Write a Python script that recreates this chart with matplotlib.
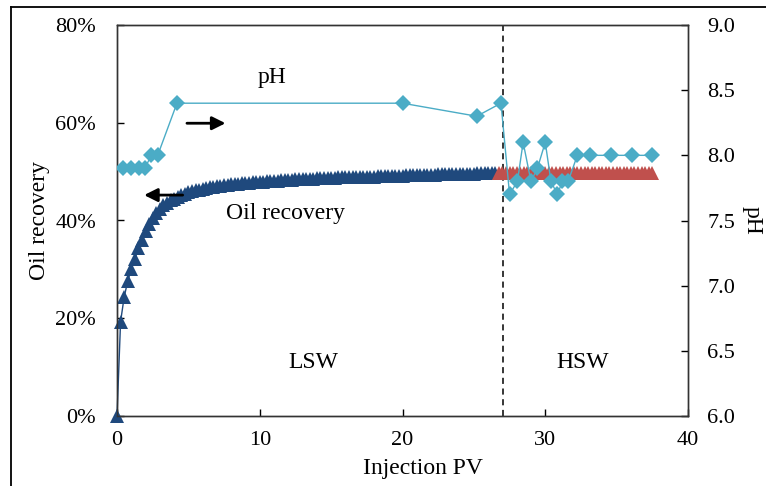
import numpy as np
import matplotlib.pyplot as plt
from matplotlib.lines import Line2D

# --------------------------------------
# DATA
# --------------------------------------

# oil recovery (%) every 0.25 PV, low salinity water (from 0 to 26.5 PV)
rec_lsw = [
    0.0, 19.3, 24.3, 27.6, 30.0, 32.1, 34.3, 36.1, 37.8, 39.2,
    40.5, 41.6, 42.4, 43.1, 43.6, 44.1, 44.5, 44.9, 45.2, 45.5,
    45.8, 46.0, 46.2, 46.3, 46.5, 46.7, 46.8, 46.9, 47.0, 47.1,
    47.2, 47.3, 47.4, 47.4, 47.5, 47.6, 47.7, 47.7, 47.8, 47.8,
    47.9, 47.9, 48.0, 48.0, 48.1, 48.1, 48.2, 48.2, 48.3, 48.3,
    48.4, 48.4, 48.4, 48.5, 48.5, 48.5, 48.6, 48.6, 48.6, 48.7,
    48.7, 48.7, 48.8, 48.8, 48.8, 48.9, 48.9, 48.9, 48.9, 49.0,
    49.0, 49.0, 49.0, 49.1, 49.1, 49.1, 49.1, 49.2, 49.2, 49.2,
    49.2, 49.3, 49.3, 49.3, 49.3, 49.4, 49.4, 49.4, 49.4, 49.4,
    49.5, 49.5, 49.5, 49.5, 49.5, 49.6, 49.6, 49.6, 49.6, 49.6,
    49.6, 49.7, 49.7, 49.7, 49.7, 49.7, 49.7,
]
pv_lsw = np.arange(len(rec_lsw)) * 0.25

# oil recovery (%) every 0.25 PV, high salinity water (from 26.75 PV)
rec_hsw = [
    49.7, 49.7, 49.7, 49.7, 49.7, 49.7, 49.7, 49.7, 49.7, 49.7,
    49.7, 49.7, 49.7, 49.7, 49.7, 49.7, 49.7, 49.7, 49.7, 49.7,
    49.7, 49.7, 49.7, 49.7, 49.7, 49.7, 49.7, 49.7, 49.7, 49.7,
    49.7, 49.7, 49.7, 49.7, 49.7, 49.7, 49.7, 49.7, 49.7, 49.7,
    49.7, 49.7, 49.7, 49.7,
]
pv_hsw = 26.75 + np.arange(len(rec_hsw)) * 0.25

# effluent pH
pv_ph = [0.45, 1.0, 1.55, 1.95, 2.4, 2.85, 4.2, 20.0, 25.2, 26.9,
         27.5, 28.05, 28.45, 29.0, 29.45, 30.0, 30.4, 30.85, 31.2, 31.6,
         32.25, 33.1, 34.6, 36.1, 37.45]
ph = [7.9, 7.9, 7.9, 7.9, 8.0, 8.0, 8.4, 8.4, 8.3, 8.4,
      7.7, 7.8, 8.1, 7.8, 7.9, 8.1, 7.8, 7.7, 7.8, 7.8,
      8.0, 8.0, 8.0, 8.0, 8.0]

switch_pv = 27.05

x_ticks = [0, 10, 20, 30, 40]
y_ticks = [0, 20, 40, 60, 80]
ph_ticks = [6.0, 6.5, 7.0, 7.5, 8.0, 8.5, 9.0]

# --------------------------------------
# STYLE
# --------------------------------------

plt.rcParams['font.family'] = ['Liberation Serif', 'DejaVu Serif']
plt.rcParams['font.size'] = 17

blue = '#1F497D'
red = '#C0504D'
aqua = '#4BACC6'

fig = plt.figure(figsize=(7.66, 4.86), dpi=100)
ax = fig.add_axes([117/766, 70/486, 571/766, 391/486])
ax2 = ax.twinx()

# --------------------------------------
# OIL RECOVERY
# --------------------------------------

ax.plot(pv_lsw, rec_lsw, color=blue, lw=1, marker='^', ms=9.5,
        markeredgewidth=0, zorder=3, clip_on=False)
ax.plot(pv_hsw, rec_hsw, color=red, lw=1, marker='^', ms=9.5,
        markeredgewidth=0, zorder=3, clip_on=False)
ax.axvline(switch_pv, color='k', ls=(0, (4, 3)), lw=1.1, zorder=2)

ax.set_xlim(0, 40)
ax.set_ylim(0, 80)
ax.set_xticks(x_ticks)
ax.set_yticks(y_ticks)
ax.set_yticklabels([f'{v}%' for v in y_ticks])
ax.set_xlabel('Injection PV')
ax.set_ylabel('Oil recovery')
ax.xaxis.set_label_coords(0.535, -0.107)
ax.yaxis.set_label_coords(-0.117, 0.5)

# --------------------------------------
# PH
# --------------------------------------

ax2.plot(pv_ph, ph, color=aqua, lw=1, marker='D', ms=8,
         markeredgewidth=0, zorder=4)
ax2.set_ylim(6, 9)
ax2.set_yticks(ph_ticks)
ax2.set_yticklabels([f'{v:.1f}' for v in ph_ticks])
ax2.set_ylabel('pH', rotation=270, va='center')
ax2.yaxis.set_label_coords(1.112, 0.5)

ax.tick_params(axis='x', direction='in', length=5, width=1, pad=11, labelsize=16)
ax.tick_params(axis='y', direction='in', length=5, width=1, pad=15, labelsize=16)
ax2.tick_params(axis='y', direction='in', length=5, width=1, pad=14, labelsize=16)
for a in (ax, ax2):
    for s in a.spines.values():
        s.set_linewidth(1)
        s.set_color('#333333')

# --------------------------------------
# ANNOTATIONS
# --------------------------------------

ax.text(10.86, 69.2, 'pH', ha='center', va='center')
ax.text(11.77, 41.5, 'Oil recovery', ha='center', va='center')
ax.text(13.73, 11.0, 'LSW', ha='center', va='center')
ax.text(32.6, 11.0, 'HSW', ha='center', va='center')

arrow = dict(arrowstyle='-|>', color='k', lw=2, mutation_scale=20,
             shrinkA=0, shrinkB=0)
ax.annotate('', xy=(7.6, 59.9), xytext=(4.9, 59.9), arrowprops=arrow)
ax.annotate('', xy=(1.9, 45.2), xytext=(4.6, 45.2), arrowprops=arrow)

# frame around the picture (cropped at right and bottom)
fig.add_artist(Line2D([10.7/766, 10.7/766], [0, 1 - 7.3/486],
                      transform=fig.transFigure, color='k', lw=1.3))
fig.add_artist(Line2D([10.7/766, 1], [1 - 7.3/486, 1 - 7.3/486],
                      transform=fig.transFigure, color='k', lw=1.3))

fig.savefig('out.png', dpi=100)
